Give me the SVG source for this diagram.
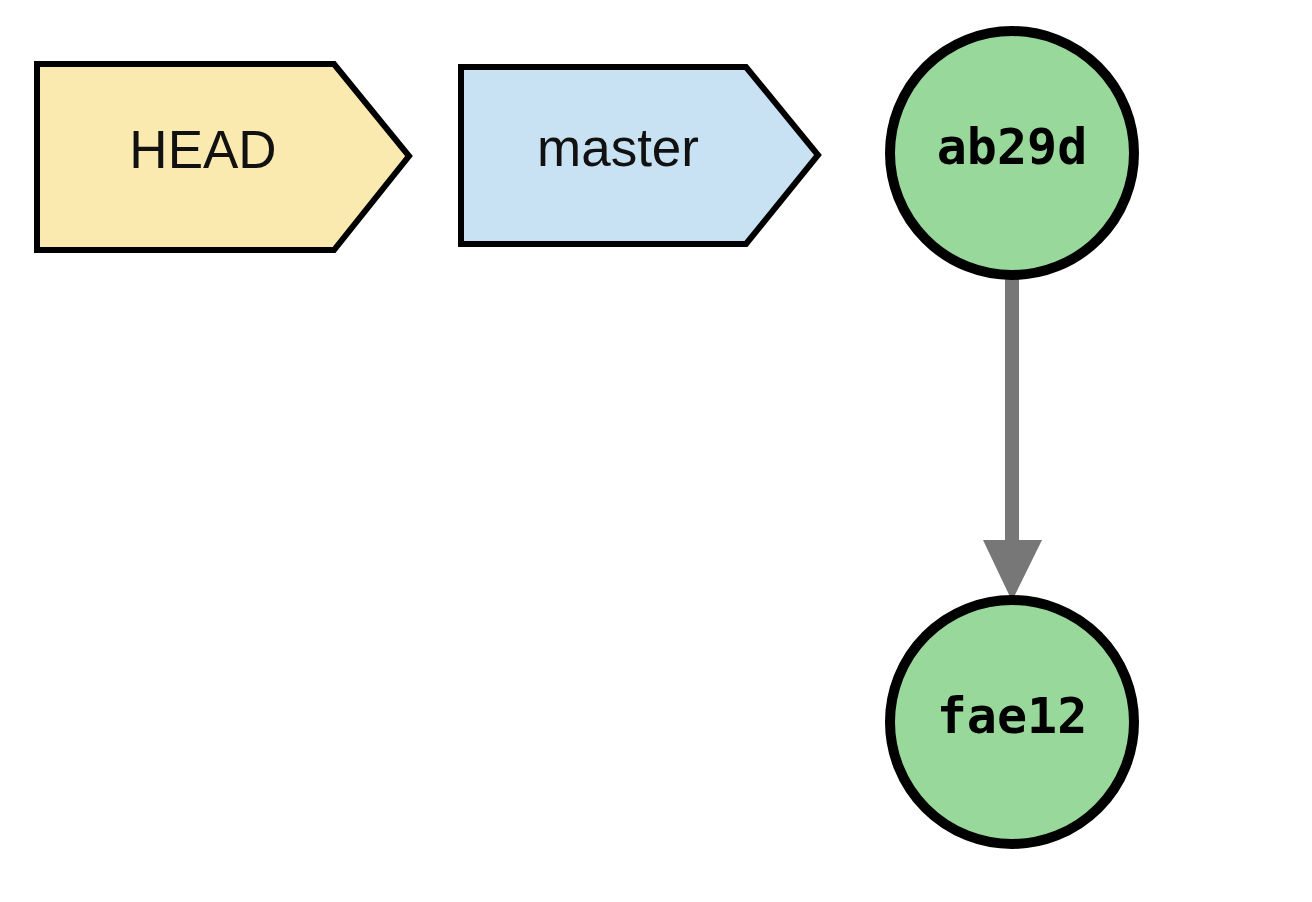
<svg xmlns="http://www.w3.org/2000/svg" width="1312" height="902" viewBox="0 0 1312 902">
<style>
.ref{stroke:#000;stroke-width:6;stroke-linejoin:miter}
.lbl{font-family:"Liberation Sans",Arial,sans-serif;font-size:53px;fill:#111;text-anchor:middle}
.commit{fill:#98d89a;stroke:#000;stroke-width:10}
.hash{font-family:"DejaVu Sans Mono",monospace;font-weight:bold;font-size:50px;fill:#000;text-anchor:middle}
</style>
<rect width="1312" height="902" fill="#fff"/>
<g id="connectors">
<line x1="1012" y1="272" x2="1012" y2="542" stroke="#777" stroke-width="14"/>
<polygon points="983,540 1042,540 1012,601" fill="#777"/>
</g>
<g id="head">
<polygon class="ref" points="37,64 334,64 409,156 334,250 37,250" fill="#fbeab0"/>
<text class="lbl" x="203" y="168">HEAD</text>
</g>
<g id="master">
<polygon class="ref" points="461,67 746,67 818,155 746,244 461,244" fill="#c8e2f4"/>
<text class="lbl" x="618" y="166">master</text>
</g>
<g id="ab29d">
<circle class="commit" cx="1012" cy="153" r="122"/>
<text class="hash" x="1012" y="164">ab29d</text>
</g>
<g id="fae12">
<circle class="commit" cx="1012" cy="722" r="122"/>
<text class="hash" x="1012" y="733">fae12</text>
</g>
</svg>
